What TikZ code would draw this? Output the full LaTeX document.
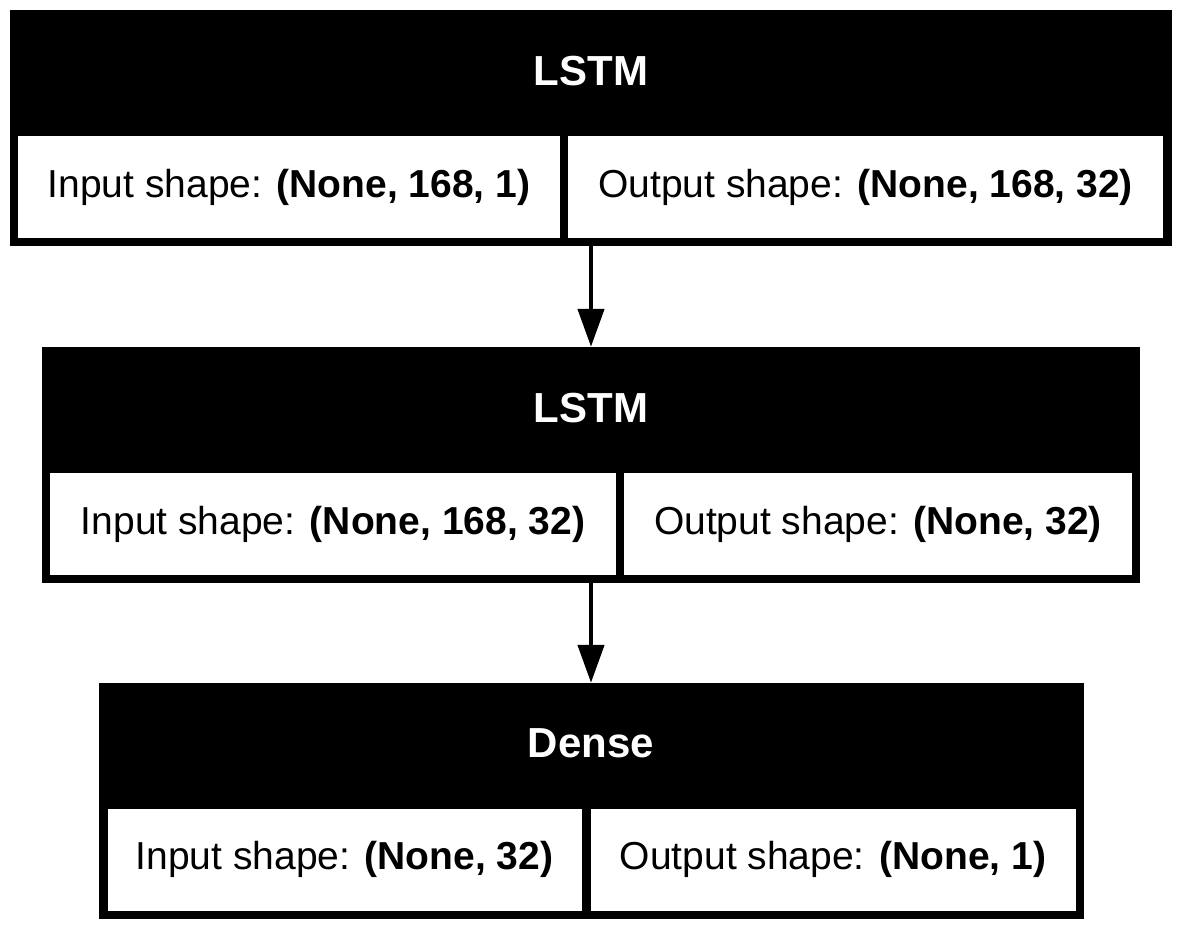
\documentclass[tikz,border=0pt]{standalone}
\usepackage{fontspec}
\setmainfont{Liberation Sans}
\usetikzlibrary{arrows.meta}

\begin{document}
\begin{tikzpicture}[x=1pt, y=-1pt,
    layer/.style={rectangle, fill=black, inner sep=0pt, minimum height=236pt},
    cell/.style={rectangle, fill=white, inner sep=0pt, minimum height=102pt, font=\fontsize{39}{47}\selectfont},
    title/.style={text=white, inner sep=0pt, font=\fontsize{42}{50}\selectfont\bfseries},
    flow/.style={-{Triangle[length=38pt, width=26pt]}, line width=4.5pt}]
    \useasboundingbox (0,0) rectangle (1181,931);

    % first LSTM
    \node[layer, minimum width=1162pt] (lstma) at (591,128) {};
    \node[title] (lstmatitle) at (591,71) {LSTM};
    \node[cell, minimum width=542pt] (lstmain) at (289,187) {Input shape: \textbf{(None, 168, 1)}};
    \node[cell, minimum width=595pt] (lstmaout) at (865.5,187) {Output shape: \textbf{(None, 168, 32)}};

    % second LSTM
    \node[layer, minimum width=1098pt] (lstmb) at (591,465) {};
    \node[title] (lstmbtitle) at (591,408) {LSTM};
    \node[cell, minimum width=566pt] (lstmbin) at (333,524) {Input shape: \textbf{(None, 168, 32)}};
    \node[cell, minimum width=508pt] (lstmbout) at (878,524) {Output shape: \textbf{(None, 32)}};

    % Dense
    \node[layer, minimum width=985pt] (dense) at (591,801) {};
    \node[title] (densetitle) at (591,743) {Dense};
    \node[cell, minimum width=474pt] (densein) at (344.5,859.5) {Input shape: \textbf{(None, 32)}};
    \node[cell, minimum width=485pt] (denseout) at (833,859.5) {Output shape: \textbf{(None, 1)}};

    \draw[flow] (lstma) -- (lstmb);
    \draw[flow] (lstmb) -- (dense);
\end{tikzpicture}
\end{document}
